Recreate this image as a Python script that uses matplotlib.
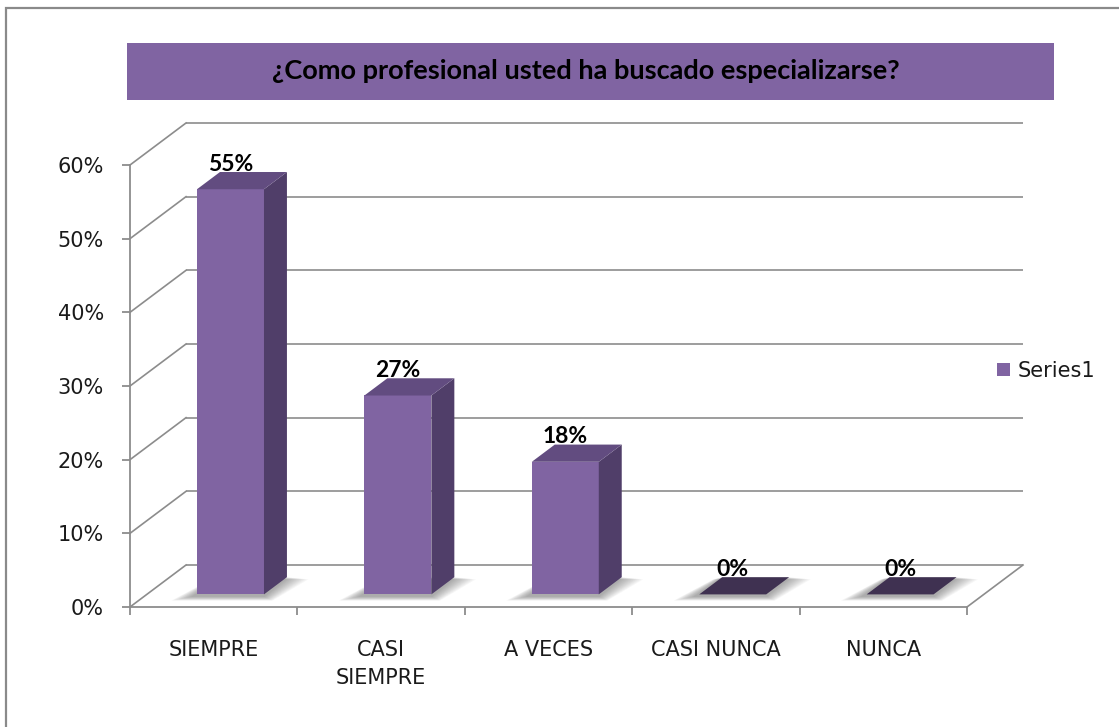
import matplotlib
matplotlib.use('Agg')
import matplotlib.pyplot as plt
from matplotlib.patches import Polygon, Rectangle, Patch
from matplotlib.ticker import PercentFormatter
import numpy as np

# ---------------- data ----------------
categories = ['SIEMPRE', 'CASI\nSIEMPRE', 'A VECES', 'CASI NUNCA', 'NUNCA']
values = [0.55, 0.27, 0.18, 0.0, 0.0]
value_labels = ['55%', '27%', '18%', '0%', '0%']
y_ticks = [0.0, 0.1, 0.2, 0.3, 0.4, 0.5, 0.6]
title_text = '¿Como profesional usted ha buscado especializarse?'
series_name = 'Series1'

# ---------------- style ----------------
FRONT = '#8064A2'
SIDE = '#503E69'
TOP = '#624C80'
ZERO = '#3F3151'
GRID = '#8C8C8C'
plt.rcParams['font.family'] = ['DejaVu Sans']
BOLD_FONT = ['Lato', 'DejaVu Sans']

W, H = 1119, 727
fig = plt.figure(figsize=(W / 100, H / 100), dpi=100)
fig.patch.set_facecolor('white')

# front plane of the 3-D box in pixels
x0p, x1p = 130, 967
y0p, y1p = 607, 165
ax = fig.add_axes([x0p / W, 1 - y0p / H, (x1p - x0p) / W, (y0p - y1p) / H])
n = len(categories)
ax.set_xlim(0, n)
ax.set_ylim(0, y_ticks[-1])
ax.set_facecolor('none')

px_x = (x1p - x0p) / n
px_y = (y0p - y1p) / y_ticks[-1]
DX = 56 / px_x          # depth offset in data units
DY = 42 / px_y
f0, f1 = 0.30, 0.71     # bar depth range (fraction of depth)
bw = 0.40               # bar width (category units)

# spines / ticks
for s in ['top', 'right']:
    ax.spines[s].set_visible(False)
for s in ['left', 'bottom']:
    ax.spines[s].set_color(GRID)
    ax.spines[s].set_linewidth(1.3)

ax.set_yticks(y_ticks)
ax.yaxis.set_major_formatter(PercentFormatter(1.0, decimals=0))
ax.tick_params(axis='y', length=5.8, width=1.3, color=GRID, labelsize=15,
               pad=13, labelcolor='#1a1a1a')
ax.set_xticks(np.arange(n + 1))
ax.set_xticklabels([])
ax.set_xticks(np.arange(n) + 0.5, minor=True)
ax.set_xticklabels(categories, minor=True)
ax.tick_params(axis='x', which='major', length=5.8, width=1.3, color=GRID)
ax.tick_params(axis='x', which='minor', length=0, labelsize=15, pad=24,
               labelcolor='#1a1a1a')
for lbl in ax.get_xticklabels(minor=True):
    lbl.set_linespacing(1.45)

# back wall gridlines and side wall diagonals
for v in y_ticks:
    ax.plot([DX, n + DX], [v + DY, v + DY], color=GRID, lw=1.2,
            clip_on=False, zorder=1, solid_capstyle='butt')
    ax.plot([0, DX], [v, v + DY], color=GRID, lw=1.2, clip_on=False, zorder=1)
ax.plot([n, n + DX], [0, DY], color=GRID, lw=1.2, clip_on=False, zorder=1)

# bars
for i, (v, lab) in enumerate(zip(values, value_labels)):
    xl = i + (1 - bw) / 2 + f0 * DX
    xr = xl + bw
    yb = f0 * DY
    yt = v + yb
    ddx = (f1 - f0) * DX
    ddy = (f1 - f0) * DY
    # soft floor shadow (blurred footprint)
    nl = 12
    for k in range(nl):
        e = (nl - k) * 1.8 / px_x
        ey = (nl - k) * 0.35 / px_y
        pts = [(xl - 4 / px_x - e, yb - 2 / px_y - ey),
               (xr + e * 0.4, yb - 2 / px_y - ey),
               (xr + ddx + e, yb + ddy - ey * 0.5),
               (xl + ddx - e * 0.4, yb + ddy - ey * 0.5)]
        ax.add_patch(Polygon(pts, closed=True, facecolor='#404040', alpha=0.045,
                             edgecolor='none', clip_on=False, zorder=2))
    if v > 0:
        ax.add_patch(Polygon([(xl, yb), (xr, yb), (xr, yt), (xl, yt)],
                             facecolor=FRONT, edgecolor='none', clip_on=False, zorder=3))
        ax.add_patch(Polygon([(xr, yb), (xr + ddx, yb + ddy), (xr + ddx, yt + ddy), (xr, yt)],
                             facecolor=SIDE, edgecolor='none', clip_on=False, zorder=3))
        ax.add_patch(Polygon([(xl, yt), (xr, yt), (xr + ddx, yt + ddy), (xl + ddx, yt + ddy)],
                             facecolor=TOP, edgecolor='none', clip_on=False, zorder=3))
    else:
        ax.add_patch(Polygon([(xl, yt), (xr, yt), (xr + ddx, yt + ddy), (xl + ddx, yt + ddy)],
                             facecolor=ZERO, edgecolor='none', clip_on=False, zorder=3))
    ax.text(i + 0.5 + f0 * DX, v + f1 * DY + 1.5 / px_y, lab, ha='center', va='baseline',
            fontsize=16.5, fontweight='bold', family=BOLD_FONT, color='black',
            zorder=5, clip_on=False)

# legend
fig.legend(handles=[Patch(facecolor=FRONT, edgecolor='none', label=series_name)],
           loc='center left', bbox_to_anchor=(997 / W, 1 - 371 / H), frameon=False,
           fontsize=15, handlelength=0.62, handleheight=0.62, handletextpad=0.35,
           borderpad=0, borderaxespad=0, labelcolor='#1a1a1a')

# title box
fig.add_artist(Rectangle((127 / W, 1 - 100 / H), (1054 - 127) / W, 57 / H,
                         transform=fig.transFigure, facecolor=FRONT, edgecolor='none'))
t = fig.text(586 / W, 1 - 71 / H, title_text, ha='center', va='center',
             fontsize=18, fontweight='bold', family=BOLD_FONT, color='black')
# fit title width to the reference (~630 px)
r = fig.canvas.get_renderer()
wpx = t.get_window_extent(r).width
t.set_fontsize(18 * 630 / wpx)

# outer border
fig.add_artist(Rectangle((6 / W, -0.05), 1.2, 1 - 8 / H + 0.05, transform=fig.transFigure,
                         fill=False, edgecolor='#8A8A8A', lw=1.6))

fig.savefig('out.png', dpi=100, facecolor='white')
